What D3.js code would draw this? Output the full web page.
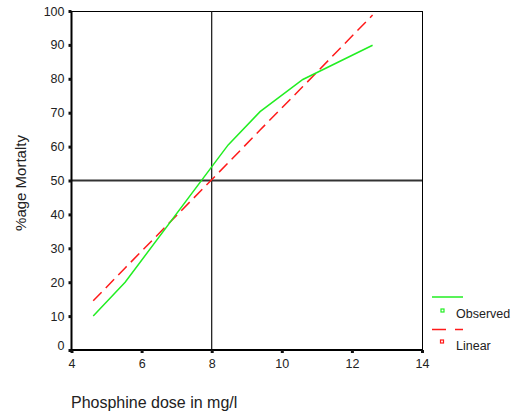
<!DOCTYPE html>
<html><head><meta charset="utf-8">
<script src="https://cdn.jsdelivr.net/npm/d3@7"></script>
<style>
html,body{margin:0;padding:0;background:#fff;}
svg{display:block;font-family:"Liberation Sans",Arial,sans-serif;}
</style></head>
<body><svg id="c" width="511" height="417"></svg>
<script>
const doseObserved = [4.62, 5.53, 8.47, 9.38, 10.6, 12.59];
const mortalityObserved = [10, 20, 60.5, 70.3, 79.8, 89.9];
const doseLinear = [4.62, 5.53, 8.47, 9.38, 10.6, 12.59];
const mortalityLinear = [14.5, 24.2, 55.2, 64.9, 77.7, 98.8];
const xTicks = [4, 6, 8, 10, 12, 14];
const yTicks = [0, 10, 20, 30, 40, 50, 60, 70, 80, 90, 100];
const refX = 8, refY = 50;
const legendLabels = ["Observed", "Linear"];

const svg = d3.select("#c");
const L = 71.5, R = 422, T = 11, B = 350;
const x = d3.scaleLinear().domain([4, 14]).range([L, R]);
const y = d3.scaleLinear().domain([0, 100]).range([B, T]);

// frame top/right
svg.append("line").attr("x1", L).attr("x2", R).attr("y1", T + 0.5).attr("y2", T + 0.5).attr("stroke", "#000").attr("stroke-width", 1);
svg.append("line").attr("x1", R + 0.5).attr("x2", R + 0.5).attr("y1", T).attr("y2", B).attr("stroke", "#000").attr("stroke-width", 1);

// reference lines
svg.append("line").attr("x1", x(refX)).attr("x2", x(refX)).attr("y1", T).attr("y2", B).attr("stroke", "#111").attr("stroke-width", 1.2);
svg.append("line").attr("x1", L).attr("x2", R).attr("y1", y(refY)).attr("y2", y(refY)).attr("stroke", "#333").attr("stroke-width", 2);

// axes
const gy = svg.append("g").attr("transform", `translate(${L},0)`)
  .call(d3.axisLeft(y).tickValues(yTicks).tickSize(3).tickPadding(4).tickFormat(d3.format("d")));
const gx = svg.append("g").attr("transform", `translate(0,${B})`)
  .call(d3.axisBottom(x).tickValues(xTicks).tickSize(3).tickPadding(6).tickFormat(d3.format("d")));
[gy, gx].forEach(g => {
  g.select(".domain").attr("stroke", "#000").attr("stroke-width", 2);
  g.selectAll(".tick line").attr("stroke", "#111").attr("stroke-width", 3);
  g.selectAll(".tick text").attr("fill", "#222").style("font-size", "12.5px").style("font-family", "Liberation Sans, Arial, sans-serif");
});
gy.select(".domain").attr("d", `M0,${T}V${B + 1}`);
gx.select(".domain").attr("d", `M${L - 1},0H${R}`);
gy.selectAll(".tick").filter(d => d === 0).select("text").attr("dy", "-0.05em");

// lines
const line = d3.line().x(d => x(d[0])).y(d => y(d[1]));
svg.append("path").datum(doseLinear.map((d, i) => [d, mortalityLinear[i]]))
  .attr("d", line).attr("fill", "none").attr("stroke", "#ff1a1a").attr("stroke-width", 1.5).attr("stroke-dasharray", "12,6");
svg.append("path").datum(doseObserved.map((d, i) => [d, mortalityObserved[i]]))
  .attr("d", line).attr("fill", "none").attr("stroke", "#22ee22").attr("stroke-width", 1.5);

// axis titles
svg.append("text").attr("x", 71).attr("y", 408).attr("fill", "#222").style("font-size", "16px").text("Phosphine dose in mg/l");
svg.append("text").attr("transform", "translate(26,183) rotate(-90)").attr("text-anchor", "middle").attr("fill", "#222").style("font-size", "15px").text("%age Mortalty");

// legend
const lg = svg.append("g");
lg.append("line").attr("x1", 432).attr("x2", 463).attr("y1", 297).attr("y2", 297).attr("stroke", "#22ee22").attr("stroke-width", 1.5);
lg.append("rect").attr("x", 441).attr("y", 309).attr("width", 3).attr("height", 3).attr("fill", "#fff").attr("stroke", "#22ee22").attr("stroke-width", 1.2);
lg.append("text").attr("x", 456).attr("y", 318).attr("fill", "#222").style("font-size", "12.5px").text(legendLabels[0]);
lg.append("line").attr("x1", 432).attr("x2", 463).attr("y1", 329.5).attr("y2", 329.5).attr("stroke", "#ff1a1a").attr("stroke-width", 1.5).attr("stroke-dasharray", "14,9");
lg.append("rect").attr("x", 440.5).attr("y", 340).attr("width", 3).attr("height", 3).attr("fill", "#fff").attr("stroke", "#ff1a1a").attr("stroke-width", 1.2);
lg.append("text").attr("x", 456).attr("y", 350).attr("fill", "#222").style("font-size", "12.5px").text(legendLabels[1]);
</script></body></html>
